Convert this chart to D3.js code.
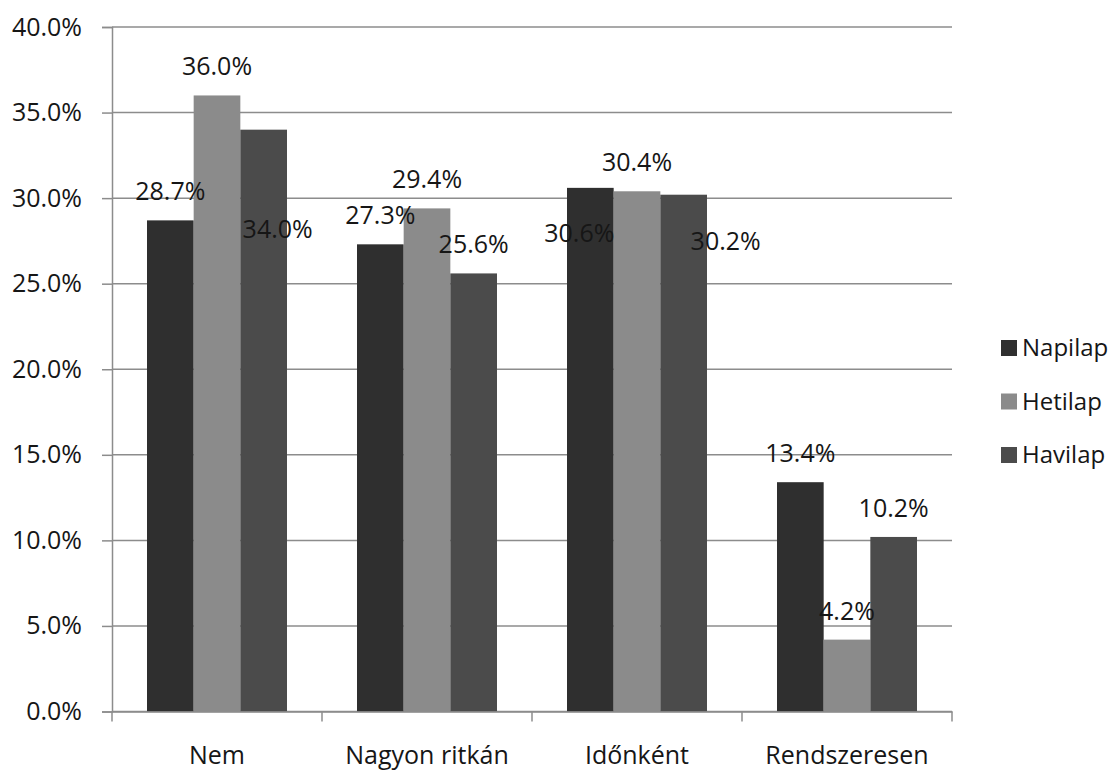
<!DOCTYPE html>
<html>
<head>
<meta charset="utf-8">
<script src="https://cdn.jsdelivr.net/npm/d3@7"></script>
<style>
  body { margin: 0; background: #fff; }
  svg text { font-family: "Open Sans", "DejaVu Sans", sans-serif; fill: #161616; }
</style>
</head>
<body>
<div id="chart"></div>
<script>
// Data
var categories = ["Nem", "Nagyon ritkán", "Időnként", "Rendszeresen"];
var seriesNames = ["Napilap", "Hetilap", "Havilap"];
var napilap = [28.7, 27.3, 30.6, 13.4];
var hetilap = [36.0, 29.4, 30.4, 4.2];
var havilap = [34.0, 25.6, 30.2, 10.2];
var yTicks = [0, 5, 10, 15, 20, 25, 30, 35, 40];

var seriesValues = [napilap, hetilap, havilap];
var colors = ["#2f2f2f", "#8b8b8b", "#4b4b4b"];

// label nudges (px) for the few labels that were moved in the original
var labelNudge = [
  [[0, 0], [0, 0], [-11, 74], [0, 0]],
  [[0, 0], [0, 0], [0, 0], [0, 0]],
  [[14, 128], [0, 0], [42, 75], [0, 0]]
];

var svgWidth = 1117;
var svgHeight = 771;
var margin = { top: 27, right: 165, bottom: 59.5, left: 112 };
var width = svgWidth - margin.left - margin.right;
var height = svgHeight - margin.top - margin.bottom;

var svg = d3.select("#chart")
  .append("svg")
  .attr("width", svgWidth)
  .attr("height", svgHeight);

var chartGroup = svg.append("g")
  .attr("transform", `translate(${margin.left}, ${margin.top})`);

var xScale = d3.scaleBand()
  .domain(categories)
  .range([0, width])
  .paddingInner(1 / 3)
  .paddingOuter(1 / 6);

var xSub = d3.scaleBand()
  .domain(seriesNames)
  .range([0, xScale.bandwidth()]);

var yScale = d3.scaleLinear()
  .domain([0, 40])
  .range([height, 0]);

// gridlines
chartGroup.selectAll(".grid")
  .data(yTicks)
  .enter()
  .append("line")
  .attr("x1", 0)
  .attr("x2", width)
  .attr("y1", d => yScale(d))
  .attr("y2", d => yScale(d))
  .attr("stroke", "#8c8c8c")
  .attr("stroke-width", 1.5);

// y axis
var leftAxis = d3.axisLeft(yScale)
  .tickValues(yTicks)
  .tickSize(10)
  .tickPadding(20)
  .tickFormat(d => d.toFixed(1) + "%");

var yAxisG = chartGroup.append("g").call(leftAxis);
yAxisG.select(".domain").attr("stroke", "#8c8c8c").attr("stroke-width", 1.5);
yAxisG.selectAll(".tick line").attr("stroke", "#8c8c8c").attr("stroke-width", 1.5);
yAxisG.selectAll(".tick text")
  .attr("font-size", "25px")
  .attr("font-family", null)
  .attr("fill", null);

// bars
var groups = chartGroup.selectAll(".cat")
  .data(categories)
  .enter()
  .append("g")
  .attr("transform", d => `translate(${xScale(d)}, 0)`);

groups.selectAll("rect")
  .data((c, ci) => seriesNames.map((s, si) => ({ s: s, si: si, ci: ci, v: seriesValues[si][ci] })))
  .enter()
  .append("rect")
  .attr("x", d => xSub(d.s))
  .attr("y", d => yScale(d.v))
  .attr("width", xSub.bandwidth())
  .attr("height", d => height - yScale(d.v))
  .attr("fill", d => colors[d.si]);

// x axis
var bottomAxis = d3.axisBottom(xScale).tickSize(0).tickPadding(35);
var xAxisG = chartGroup.append("g")
  .attr("transform", `translate(0, ${height})`)
  .call(bottomAxis);
xAxisG.select(".domain").attr("stroke", "#8c8c8c").attr("stroke-width", 1.5);
xAxisG.selectAll(".tick text")
  .attr("font-size", "25px")
  .attr("font-family", null)
  .attr("fill", null);

// category separator ticks
var sepTicks = categories.map(c => xScale(c) - xScale.step() * xScale.paddingInner() / 2)
  .concat([width]);
xAxisG.selectAll(".sep")
  .data(sepTicks)
  .enter()
  .append("line")
  .attr("x1", d => d)
  .attr("x2", d => d)
  .attr("y1", 0)
  .attr("y2", 10)
  .attr("stroke", "#8c8c8c")
  .attr("stroke-width", 1.5);

// data labels
groups.selectAll(".lbl")
  .data((c, ci) => seriesNames.map((s, si) => ({ s: s, si: si, ci: ci, v: seriesValues[si][ci] })))
  .enter()
  .append("text")
  .attr("x", d => xSub(d.s) + xSub.bandwidth() / 2 + labelNudge[d.si][d.ci][0])
  .attr("y", d => yScale(d.v) - 20 + labelNudge[d.si][d.ci][1])
  .attr("text-anchor", "middle")
  .attr("font-size", "25px")
  .text(d => d.v.toFixed(1) + "%");

// legend
var legend = svg.append("g")
  .attr("transform", "translate(1001, 348)");

var legendItems = legend.selectAll("g")
  .data(seriesNames)
  .enter()
  .append("g")
  .attr("transform", (d, i) => `translate(0, ${i * 53.5})`);

legendItems.append("rect")
  .attr("x", 0)
  .attr("y", -8)
  .attr("width", 16)
  .attr("height", 16)
  .attr("fill", (d, i) => colors[i]);

legendItems.append("text")
  .attr("x", 21)
  .attr("y", 0)
  .attr("dy", "0.35em")
  .attr("font-size", "24px")
  .text(d => d);
</script>
</body>
</html>
